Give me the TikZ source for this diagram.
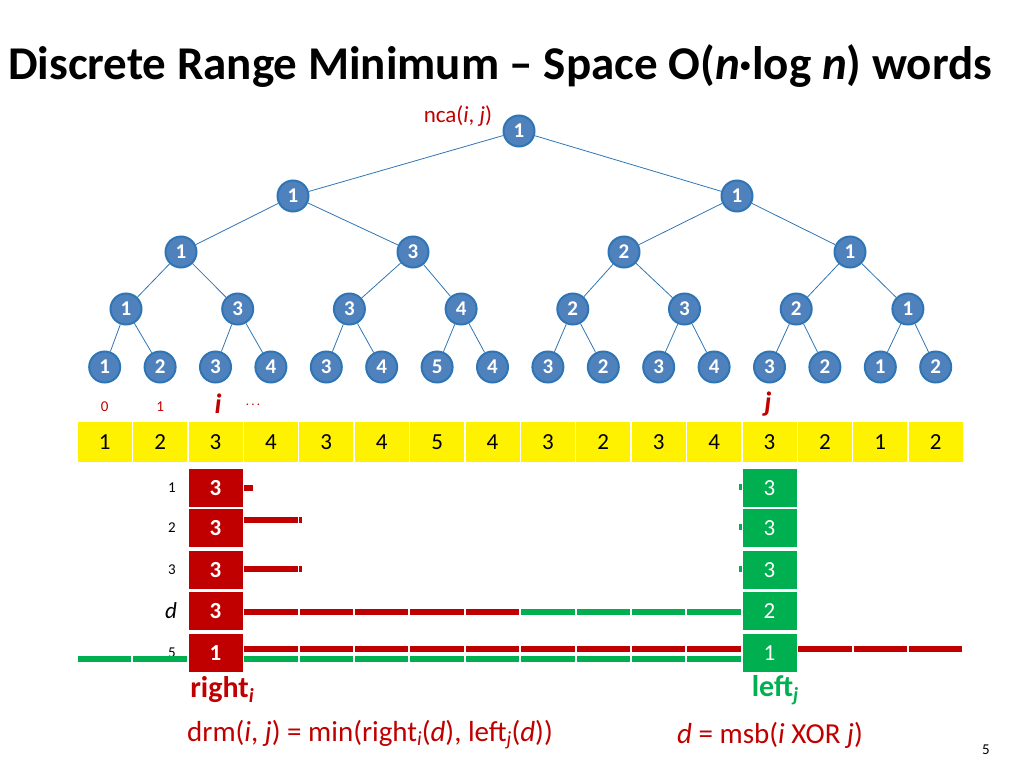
\documentclass[tikz,border=0pt]{standalone}
\usepackage{fontspec}
\setmainfont{Carlito}
\definecolor{nodeblue}{HTML}{4F81BD}
\definecolor{edgeblue}{HTML}{2E75B6}
\definecolor{darkred}{HTML}{C00000}
\definecolor{darkgreen}{HTML}{00B050}
\newcommand{\subtxt}[1]{\raisebox{-0.3ex}{\fontsize{20}{20}\selectfont #1}}

\tikzset{
  tnode/.style={circle,draw=edgeblue,line width=2pt,fill=nodeblue,minimum size=31pt,inner sep=0pt,text=white,font=\fontsize{21}{21}\selectfont\bfseries},
  tedge/.style={edgeblue,line width=0.8pt},
  cell/.style={rectangle,fill=yellow,minimum width=54pt,minimum height=40pt,inner sep=0pt,font=\fontsize{23}{23}\selectfont},
  rbox/.style={rectangle,fill=darkred,minimum width=54pt,minimum height=38pt,inner sep=0pt,text=white,font=\fontsize{23}{23}\selectfont\bfseries},
  gbox/.style={rectangle,fill=darkgreen,minimum width=54pt,minimum height=38pt,inner sep=0pt,text=white,font=\fontsize{23}{23}\selectfont},
  rbar/.style={darkred,line width=5.5pt},
  gbar/.style={darkgreen,line width=5.5pt},
  rowlab/.style={font=\fontsize{15}{15}\selectfont},
}

\begin{document}
\begin{tikzpicture}[x=1pt,y=-1pt]
    \useasboundingbox (0,0) rectangle (1024,768);

    % title
    \node[anchor=west,inner sep=0pt,font=\fontsize{47}{47}\selectfont\bfseries] (title) at (8,66)
        {Discrete Range Minimum – Space O(\textit{n}·log \textit{n}) words};

    % tree
    \node[tnode] (R) at (519,131) {1};
    \node[text=darkred,font=\fontsize{23}{23}\selectfont] (nca) at (458,116) {nca(\textit{i}, \textit{j})};
    \node[tnode] (A1) at (293,196) {1};
    \node[tnode] (A2) at (737,196) {1};
    \node[tnode] (B1) at (181,252) {1};
    \node[tnode] (B2) at (413,252) {3};
    \node[tnode] (B3) at (624,252) {2};
    \node[tnode] (B4) at (850,252) {1};
    \foreach \v [count=\k] in {1,3,3,4,2,3,2,1}
        \node[tnode] (C\k) at ({126+111.7*(\k-1)},309) {\v};
    \foreach \v [count=\k] in {1,2,3,4,3,4,5,4,3,2,3,4,3,2,1,2}
        \node[tnode] (L\k) at ({104.7+55.4*(\k-1)},367) {\v};

    \draw[tedge] (R) -- (A1);
    \draw[tedge] (R) -- (A2);
    \draw[tedge] (A1) -- (B1);
    \draw[tedge] (A1) -- (B2);
    \draw[tedge] (A2) -- (B3);
    \draw[tedge] (A2) -- (B4);
    \foreach \k/\p in {1/1,2/1,3/2,4/2,5/3,6/3,7/4,8/4}
        \draw[tedge] (B\p) -- (C\k);
    \foreach \k [evaluate=\k as \p using {int((\k+1)/2)}] in {1,...,16}
        \draw[tedge] (C\p) -- (L\k);

    % index labels
    \node[text=darkred,font=\fontsize{15}{15}\selectfont] (i0) at (104.7,407) {0};
    \node[text=darkred,font=\fontsize{15}{15}\selectfont] (i1) at (160.1,407) {1};
    \node[text=darkred,font=\fontsize{28}{28}\selectfont\bfseries\itshape] (ii) at (218,404) {i};
    \node[text=darkred,font=\fontsize{13}{13}\selectfont] (dots) at (253,405) {.\,.\,.};
    \node[text=darkred,font=\fontsize{28}{28}\selectfont\bfseries\itshape] (jj) at (768,404) {j};

    % array
    \foreach \v [count=\k] in {1,2,3,4,3,4,5,4,3,2,3,4,3,2,1,2}
        \node[cell] (X\k) at ({104.7+55.4*(\k-1)},442) {\v};

    % right_i and left_j columns
    \foreach \v/\y [count=\r] in {3/488,3/528,3/570,3/611,1/653} {
        \node[rbox] (P\r) at (215.5,\y) {\v};
    }
    \foreach \v/\y [count=\r] in {3/488,3/528,3/570,2/611,1/653} {
        \node[gbox] (Q\r) at (769.5,\y) {\v};
    }
    \foreach \t/\y [count=\r] in {1/488,2/528,3/570,5/653}
        \node[rowlab] (rl\r) at (172,\y) {\t};
    \node[font=\fontsize{23}{23}\selectfont\itshape] (rd) at (171,611) {d};

    % bars
    \draw[rbar] (244,488) -- (253,488);
    \draw[rbar] (244,520) -- (298,520);
    \draw[darkred,line width=3pt] (300,517) -- (300,523);
    \draw[rbar] (244,569) -- (298,569);
    \draw[darkred,line width=3pt] (300,566) -- (300,572);
    \foreach \k in {4,...,8}
        \draw[rbar] ({77+55.4*(\k-1)+1},612) -- ({77+55.4*\k-1},612);
    \foreach \k in {9,...,12}
        \draw[gbar] ({77+55.4*(\k-1)+1},612) -- ({77+55.4*\k-1},612);
    \foreach \k in {4,...,12,14,15,16}
        \draw[rbar] ({77+55.4*(\k-1)+1},649) -- ({77+55.4*\k-1},649);
    \foreach \k in {1,2,4,5,...,12}
        \draw[gbar] ({77+55.4*(\k-1)+1},659) -- ({77+55.4*\k-1},659);
    \foreach \y in {487,527,569}
        \draw[darkgreen,line width=3pt] (740,\y-3) -- (740,\y+3);

    % captions
    \node[text=darkred,font=\fontsize{30}{30}\selectfont\bfseries] (rt) at (222,690) {right\subtxt{\textbf{\textit{i}}}};
    \node[text=darkgreen,font=\fontsize{30}{30}\selectfont\bfseries] (lt) at (775,690) {left\subtxt{\textbf{\textit{j}}}};
    \node[text=darkred,font=\fontsize{29}{29}\selectfont] (drm) at (370,735)
        {drm(\textit{i}, \textit{j}) = min(right\subtxt{\textit{i}}(\textit{d}), left\subtxt{\textit{j}}(\textit{d}))};
    \node[text=darkred,font=\fontsize{29}{29}\selectfont] (msb) at (770,735)
        {\textit{d} = msb(\textit{i} XOR \textit{j})};
    \node[font=\fontsize{15}{15}\selectfont] (page) at (986,750) {5};
\end{tikzpicture}
\end{document}
